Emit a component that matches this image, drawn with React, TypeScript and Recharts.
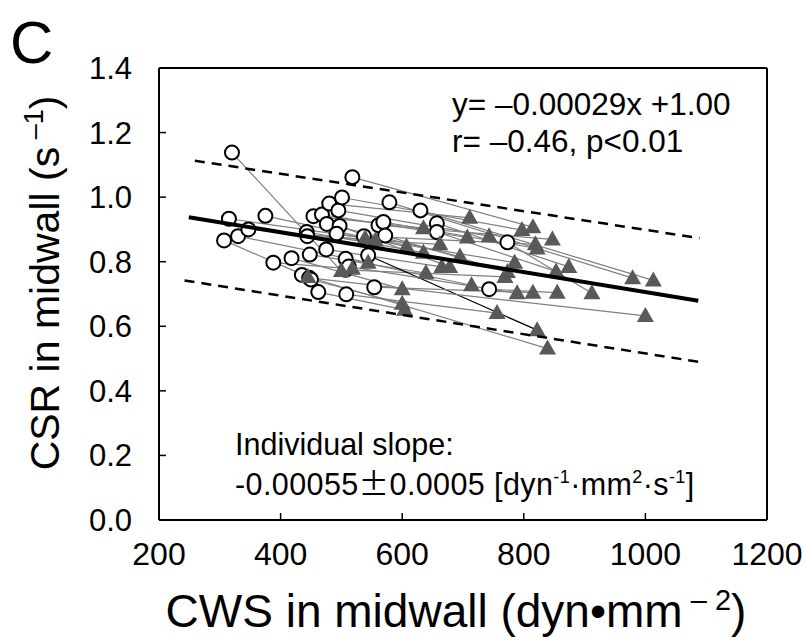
import React from 'react';
import { ScatterChart, Scatter, XAxis, YAxis, ReferenceLine } from 'recharts';

// Pre (open circles) and post (gray triangles), paired by index
const preX = [320, 315, 307, 330, 347, 375, 388, 418, 435, 443, 444, 448, 454, 462, 468, 476, 475, 480, 495, 501, 497, 492, 507, 507, 508, 518, 537, 544, 554, 561, 569, 572, 579, 630, 657, 657, 743, 773, 447, 512, 450];
const preY = [1.138, 0.933, 0.866, 0.879, 0.900, 0.942, 0.797, 0.811, 0.759, 0.892, 0.879, 0.822, 0.941, 0.706, 0.946, 0.917, 0.838, 0.980, 0.959, 0.999, 0.911, 0.887, 0.809, 0.775, 0.699, 1.062, 0.879, 0.820, 0.721, 0.913, 0.923, 0.881, 0.984, 0.959, 0.919, 0.892, 0.715, 0.860, 0.750, 0.785, 0.745];
const postX = [500, 539, 445, 544, 556, 607, 518, 600, 839, 635, 662, 639, 635, 604, 707, 695, 665, 711, 743, 797, 678, 785, 714, 769, 756, 815, 819, 822, 815, 847, 822, 773, 979, 1013, 874, 853, 855, 912, 1000, 789, 600];
const postY = [0.771, 0.873, 0.753, 0.797, 0.866, 0.847, 0.778, 0.715, 0.531, 0.828, 0.854, 0.765, 0.904, 0.651, 0.875, 0.816, 0.784, 0.936, 0.879, 0.898, 0.784, 0.797, 0.727, 0.753, 0.641, 0.907, 0.854, 0.588, 0.704, 0.869, 0.841, 0.768, 0.749, 0.742, 0.784, 0.770, 0.704, 0.702, 0.632, 0.702, 0.670];
const darkPairIndex = 27;

// Regression line and prediction band (end points)
const fitX = [249, 1087];
const fitY = [0.938, 0.679];
const upperX = [259, 1089];
const upperY = [1.113, 0.873];
const lowerX = [242, 1087];
const lowerY = [0.742, 0.49];

const xTicks = [200, 400, 600, 800, 1000, 1200];
const yTicks = [0, 0.2, 0.4, 0.6, 0.8, 1.0, 1.2, 1.4];

const FONT = '"Liberation Sans", Arial, sans-serif';

const toPts = (xs: number[], ys: number[]) => xs.map((x, i) => ({ x, y: ys[i] }));
const preData = toPts(preX, preY);
const postData = toPts(postX, postY);
const pairs = preX.map((x, i) => [
  { x, y: preY[i] },
  { x: postX[i], y: postY[i] },
]);

const Empty = () => <g />;
const CircleMark = (p: any) => (
  <circle cx={p.cx} cy={p.cy} r={7} fill="#fff" stroke="#000" strokeWidth={2} />
);
const TriMark = (p: any) => (
  <polygon
    points={`${p.cx},${p.cy - 9} ${p.cx - 8.5},${p.cy + 6} ${p.cx + 8.5},${p.cy + 6}`}
    fill="#595959"
  />
);

export default function App() {
  return (
    <div style={{ position: 'absolute', left: 0, top: 0, width: 804, height: 641, background: '#fff' }}>
      <ScatterChart
        width={804}
        height={641}
        margin={{ top: 68, right: 37, bottom: 81, left: 99 }}
      >
        <XAxis
          type="number"
          dataKey="x"
          domain={[200, 1200]}
          ticks={xTicks}
          allowDataOverflow
          height={40}
          tickSize={-7}
          tickMargin={29}
          axisLine={{ stroke: '#000', strokeWidth: 2 }}
          tickLine={{ stroke: '#000', strokeWidth: 1.5 }}
          tick={{ fill: '#000', fontSize: 32, fontFamily: FONT }}
        />
        <YAxis
          type="number"
          dataKey="y"
          domain={[0, 1.4]}
          ticks={yTicks}
          allowDataOverflow
          width={60}
          tickSize={-7}
          tickMargin={34}
          tickFormatter={(v: number) => v.toFixed(1)}
          axisLine={{ stroke: '#000', strokeWidth: 2 }}
          tickLine={{ stroke: '#000', strokeWidth: 1.5 }}
          tick={{ fill: '#000', fontSize: 31, fontFamily: FONT }}
        />
        <ReferenceLine y={1.4} stroke="#000" strokeWidth={2} />
        <ReferenceLine x={1200} stroke="#000" strokeWidth={2} />
        {pairs.map((pr, i) => (
          <Scatter
            key={'p' + i}
            data={pr}
            line={{ stroke: i === darkPairIndex ? '#000' : '#808080', strokeWidth: 1.2 }}
            shape={Empty}
            isAnimationActive={false}
          />
        ))}
        <Scatter data={preData} shape={CircleMark} isAnimationActive={false} />
        <Scatter data={postData} shape={TriMark} isAnimationActive={false} />
        <Scatter
          data={toPts(upperX, upperY)}
          line={{ stroke: '#000', strokeWidth: 2.5, strokeDasharray: '10 7' }}
          shape={Empty}
          isAnimationActive={false}
        />
        <Scatter
          data={toPts(lowerX, lowerY)}
          line={{ stroke: '#000', strokeWidth: 2.5, strokeDasharray: '10 7' }}
          shape={Empty}
          isAnimationActive={false}
        />
        <Scatter
          data={toPts(fitX, fitY)}
          line={{ stroke: '#000', strokeWidth: 4 }}
          shape={Empty}
          isAnimationActive={false}
        />
      </ScatterChart>
      <svg
        width={804}
        height={641}
        style={{ position: 'absolute', left: 0, top: 0, pointerEvents: 'none' }}
        fontFamily={FONT}
      >
        <text x={10} y={63} fontSize={60} fill="#000">C</text>
        <text x={452} y={115} fontSize={31.5} fill="#000">y= –0.00029x +1.00</text>
        <text x={452} y={152} fontSize={31.5} fill="#000">r= –0.46, p&lt;0.01</text>
        <text x={235} y={455} fontSize={30.5} fill="#000">Individual slope:</text>
        <text x={235} y={495} fontSize={30.5} fill="#000" letterSpacing={0.4}>
          -0.00055
          <tspan fontFamily={'"Noto Sans CJK JP", sans-serif'}>±</tspan>
          0.0005 [dyn
          <tspan fontSize={18} dy={-12}>-1</tspan>
          <tspan dy={12}>·mm</tspan>
          <tspan fontSize={18} dy={-12}>2</tspan>
          <tspan dy={12}>·s</tspan>
          <tspan fontSize={18} dy={-12}>-1</tspan>
          <tspan dy={12}>]</tspan>
        </text>
        <text x={456} y={627} fontSize={46} fill="#000" textAnchor="middle">
          CWS in midwall (dyn•mm
          <tspan fontSize={29} dy={-17}> – 2</tspan>
          <tspan dy={17}>)</tspan>
        </text>
        <text
          transform="translate(59,283) rotate(-90)"
          x={0}
          y={0}
          fontSize={41}
          fill="#000"
          textAnchor="middle"
        >
          CSR in midwall (s
          <tspan fontSize={27} dy={-16}> –1</tspan>
          <tspan dy={16}>)</tspan>
        </text>
      </svg>
    </div>
  );
}
